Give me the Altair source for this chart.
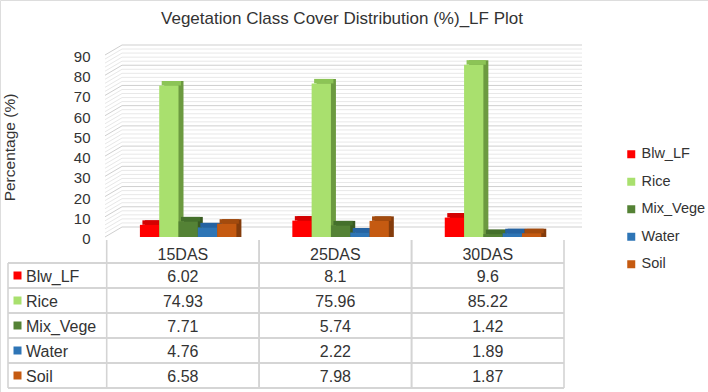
import altair as alt
import pandas as pd

# ---- data -------------------------------------------------------------
categories = ["15DAS", "25DAS", "30DAS"]
series = ["Blw_LF", "Rice", "Mix_Vege", "Water", "Soil"]
blw_lf = [6.02, 8.1, 9.6]
rice = [74.93, 75.96, 85.22]
mix_vege = [7.71, 5.74, 1.42]
water = [4.76, 2.22, 1.89]
soil = [6.58, 7.98, 1.87]

major_ticks = [0, 10, 20, 30, 40, 50, 60, 70, 80, 90]
minor_ticks = [v for v in range(0, 91, 2) if v % 10]

chart_title = "Vegetation Class Cover Distribution (%)_LF Plot"

# ---- styling ----------------------------------------------------------
FONT = "Liberation Sans"
TEXT = "#333333"
front_colors = ["#ff0000", "#a9e06e", "#548235", "#2e75b6", "#c55a11"]
side_colors = ["#b80000", "#6c9a40", "#395a22", "#1f4e7e", "#843c0c"]
top_colors = ["#d40000", "#8cc456", "#44702b", "#2563a2", "#a34b0e"]
LINE = "#d4d4d4"

values = [blw_lf, rice, mix_vege, water, soil]
rows = []
for name, vals in zip(series, values):
    for cat, v in zip(categories, vals):
        rows.append({"category": cat, "series": name, "value": v, "label": str(v)})
df = pd.DataFrame(rows)

# ---- shared scales ----------------------------------------------------
x_scale = alt.Scale(type="band", domain=categories, range=[106.7, 564],
                    paddingInner=0, paddingOuter=0)
y_val_scale = alt.Scale(domain=[0, 90], range=[237, 55], nice=False, zero=True)
y_row_scale = alt.Scale(type="band", domain=series, range=[263, 388],
                        paddingInner=0, paddingOuter=0)


def off_scale(shift):
    return alt.Scale(domain=series, range=[33.2 + shift, 129.7 + shift],
                     paddingInner=0, paddingOuter=0)


def color_enc(colors, legend=None):
    return alt.Color("series:N", sort=series,
                     scale=alt.Scale(domain=series, range=colors),
                     legend=legend)


X = alt.X("category:N", sort=categories, scale=x_scale, axis=None)
base = alt.Chart(df)

# ---- chart title --------------------------------------------------------
title = alt.Chart(pd.DataFrame({"t": [chart_title]})).mark_text(
    font=FONT, fontSize=17, color=TEXT, baseline="middle", align="center"
).encode(x=alt.value(342), y=alt.value(19), text="t:N")

# ---- wall gridlines (side wall diagonals + back wall) ----------------
DEPTH_X, DEPTH_Y = 17, -10


def grid_layers(ticks, color):
    g = alt.Chart(pd.DataFrame({"v": ticks}))
    side = g.mark_rule(color=color, strokeWidth=1, y2Offset=DEPTH_Y).encode(
        x=alt.value(105), x2=alt.value(105 + DEPTH_X),
        y=alt.Y("v:Q", scale=y_val_scale, axis=None), y2="v:Q")
    back = g.mark_rule(color=color, strokeWidth=1, yOffset=DEPTH_Y).encode(
        x=alt.value(105 + DEPTH_X), x2=alt.value(582),
        y=alt.Y("v:Q", scale=y_val_scale, axis=None))
    return [side, back]


grid = grid_layers(minor_ticks, "#e8e8e8") + grid_layers(major_ticks, "#cfcfcf")

# ---- 3D columns: side face, top face, front face ---------------------
BAR_DX, BAR_DY = 5, -4.5

bar_side = base.mark_bar(yOffset=BAR_DY, y2Offset=BAR_DY).encode(
    x=X,
    xOffset=alt.XOffset("series:N", sort=series, scale=off_scale(BAR_DX)),
    y=alt.Y("value:Q", stack=None, scale=y_val_scale, axis=None),
    color=color_enc(side_colors),
)
bar_top = base.mark_bar(yOffset=BAR_DY).encode(
    x=X,
    xOffset=alt.XOffset("series:N", sort=series, scale=off_scale(BAR_DX / 2)),
    y=alt.Y("value:Q", stack=None, scale=y_val_scale, axis=None),
    y2="value:Q",
    color=color_enc(top_colors),
)
bar_front = base.mark_bar().encode(
    x=X,
    xOffset=alt.XOffset("series:N", sort=series, scale=off_scale(0)),
    y=alt.Y("value:Q", stack=None, scale=y_val_scale,
            axis=alt.Axis(values=major_ticks, offset=-92, domain=False,
                          ticks=False, grid=False, labelPadding=2,
                          labelFontSize=15, labelFont=FONT, labelColor=TEXT,
                          labelOffset=1.5,
                          title="Percentage (%)", titleFont=FONT,
                          titleFontSize=15.5, titleFontWeight="normal",
                          titleColor=TEXT, titleX=-83, titleY=147,
                          titleAngle=270, titleAlign="center",
                          titleBaseline="middle")),
    color=color_enc(front_colors, alt.Legend(
        orient="none", legendX=624, legendY=147, title=None,
        symbolType="square", symbolSize=64, symbolStrokeWidth=0,
        labelFont=FONT, labelFontSize=14.5, labelColor=TEXT,
        rowPadding=12.5, labelOffset=3)),
)

# ---- data table -------------------------------------------------------
Y_ROW = alt.Y("series:N", sort=series, scale=y_row_scale, axis=None)

h_lines_top = base.mark_rule(color=LINE, strokeWidth=1.6).encode(
    y=alt.Y("series:N", sort=series, scale=y_row_scale, axis=None, bandPosition=0),
    x=alt.value(8), x2=alt.value(564))
h_lines_bot = base.mark_rule(color=LINE, strokeWidth=1.6).encode(
    y=alt.Y("series:N", sort=series, scale=y_row_scale, axis=None, bandPosition=1),
    x=alt.value(8), x2=alt.value(564))

cat_df = alt.Chart(pd.DataFrame({"category": categories}))
v_lines_l = cat_df.mark_rule(color=LINE, strokeWidth=1.6).encode(
    x=alt.X("category:N", sort=categories, scale=x_scale, axis=None, bandPosition=0),
    y=alt.value(240), y2=alt.value(388))
v_lines_r = cat_df.mark_rule(color=LINE, strokeWidth=1.6).encode(
    x=alt.X("category:N", sort=categories, scale=x_scale, axis=None, bandPosition=1),
    y=alt.value(240), y2=alt.value(388))
left_border = alt.Chart(pd.DataFrame({"series": series[:1]})).mark_rule(
    color=LINE, strokeWidth=1.6).encode(
    x=alt.value(8), y=alt.value(263), y2=alt.value(388))

header = cat_df.mark_text(font=FONT, fontSize=16, color=TEXT, baseline="middle",
                          dy=1).encode(
    x=X, y=alt.value(254), text="category:N")

series_df = alt.Chart(pd.DataFrame({"series": series}))
row_keys = series_df.mark_square(size=64, opacity=1, strokeWidth=0).encode(
    x=alt.value(17.5), y=Y_ROW, color=color_enc(front_colors))
row_names = series_df.mark_text(font=FONT, fontSize=16, color=TEXT, align="left",
                                baseline="middle", dy=1).encode(
    x=alt.value(26), y=Y_ROW, text="series:N")

cells = base.mark_text(font=FONT, fontSize=16, color=TEXT, baseline="middle",
                       dy=1).encode(
    x=X, y=Y_ROW, text="label:N")

chart = alt.layer(
    title, *grid, bar_side, bar_top, bar_front,
    h_lines_top, h_lines_bot, v_lines_l, v_lines_r, left_border,
    header, row_keys, row_names, cells,
).resolve_scale(
    y="independent", xOffset="independent", color="independent"
).properties(
    width=708, height=392,
    autosize=alt.AutoSizeParams(type="none"),
    padding=0,
).configure_view(stroke=None).configure(background="white")

chart.save("out.html", embed_options={"renderer": "svg", "actions": False})
